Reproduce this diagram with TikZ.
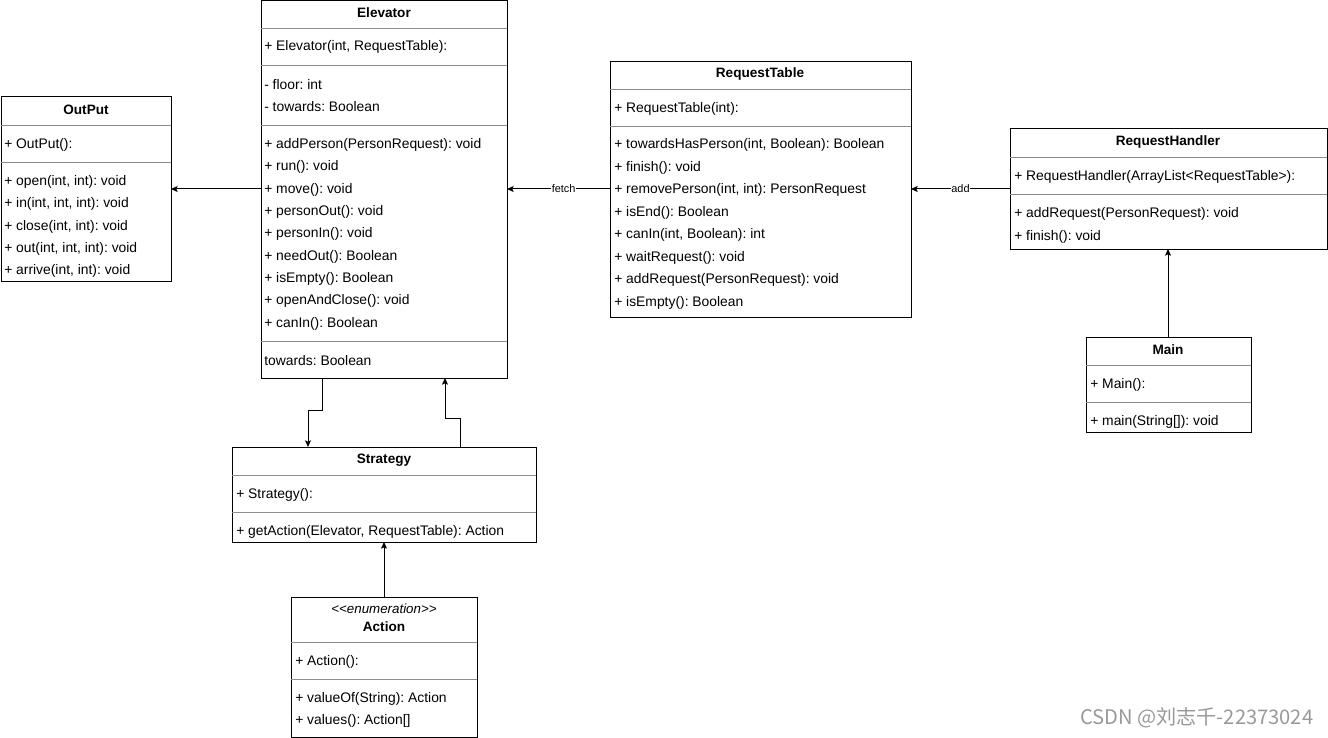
\documentclass[tikz,border=0pt]{standalone}
\usepackage{fontspec}
\setmainfont{Liberation Sans}[Ligatures=NoCommon]
\newfontfamily\cjkfont{Noto Sans CJK SC}
\usetikzlibrary{arrows.meta}
\frenchspacing
\begin{document}
\begin{tikzpicture}[x=0.75pt,y=-0.75pt,
  box/.style={draw=black, line width=0.75pt, anchor=north west, inner sep=0pt, outer sep=0pt},
  ttl/.style={inner sep=0pt, yshift=-0.75pt, font=\bfseries\fontsize{10.2}{11}\selectfont},
  itm/.style={anchor=west, inner sep=0pt, yshift=-0.75pt, font=\fontsize{10.4}{11}\selectfont},
  stereo/.style={inner sep=0pt, yshift=-0.75pt, font=\itshape\fontsize{10}{11}\selectfont},
  sepline/.style={draw=black!45, line width=0.7pt},
  conn/.style={draw=black, line width=0.75pt, -{Stealth[length=5pt,width=4.5pt,inset=1pt]}},
  lbl/.style={fill=white, inner sep=0.5pt, font=\fontsize{8.2}{9}\selectfont}]
\useasboundingbox (0,0) rectangle (1328,738);

% ---------- OutPut ----------
\node[box, minimum width=170*0.75pt, minimum height=184*0.75pt] (out) at (1,97) {};
\draw[sepline] (1,125) -- (171,125);
\draw[sepline] (1,162) -- (171,162);
\node[ttl] (out-t) at (86,109) {OutPut};
\node[itm] (out-c) at (4,144) {+ OutPut():};
\node[itm] (out-1) at (4,181) {+ open(int, int): void};
\node[itm] (out-2) at (4,203) {+ in(int, int, int): void};
\node[itm] (out-3) at (4,226) {+ close(int, int): void};
\node[itm] (out-4) at (4,248) {+ out(int, int, int): void};
\node[itm] (out-5) at (4,270) {+ arrive(int, int): void};

% ---------- Elevator ----------
\node[box, minimum width=246*0.75pt, minimum height=378*0.75pt] (el) at (261,0.5) {};
\draw[sepline] (261,28) -- (507,28);
\draw[sepline] (261,65) -- (507,65);
\draw[sepline] (261,125) -- (507,125);
\draw[sepline] (261,341) -- (507,341);
\node[ttl] (el-t) at (384,12) {Elevator};
\node[itm] (el-c) at (264,46) {+ Elevator(int, RequestTable):};
\node[itm] (el-a1) at (264,84) {- floor: int};
\node[itm] (el-a2) at (264,106) {- towards: Boolean};
\node[itm] (el-m1) at (264,144) {+ addPerson(PersonRequest): void};
\node[itm] (el-m2) at (264,166) {+ run(): void};
\node[itm] (el-m3) at (264,189) {+ move(): void};
\node[itm] (el-m4) at (264,211) {+ personOut(): void};
\node[itm] (el-m5) at (264,233) {+ personIn(): void};
\node[itm] (el-m6) at (264,256) {+ needOut(): Boolean};
\node[itm] (el-m7) at (264,278) {+ isEmpty(): Boolean};
\node[itm] (el-m8) at (264,300) {+ openAndClose(): void};
\node[itm] (el-m9) at (264,323) {+ canIn(): Boolean};
\node[itm] (el-x) at (264,360) {towards: Boolean};

% ---------- RequestTable ----------
\node[box, minimum width=301*0.75pt, minimum height=255*0.75pt] (rt) at (610,62) {};
\draw[sepline] (610,89) -- (911,89);
\draw[sepline] (610,126) -- (911,126);
\node[ttl] (rt-t) at (760,73) {RequestTable};
\node[itm] (rt-c) at (614,108) {+ RequestTable(int):};
\node[itm] (rt-1) at (614,144) {+ towardsHasPerson(int, Boolean): Boolean};
\node[itm] (rt-2) at (614,167) {+ finish(): void};
\node[itm] (rt-3) at (614,189) {+ removePerson(int, int): PersonRequest};
\node[itm] (rt-4) at (614,212) {+ isEnd(): Boolean};
\node[itm] (rt-5) at (614,234) {+ canIn(int, Boolean): int};
\node[itm] (rt-6) at (614,257) {+ waitRequest(): void};
\node[itm] (rt-7) at (614,279) {+ addRequest(PersonRequest): void};
\node[itm] (rt-8) at (614,302) {+ isEmpty(): Boolean};

% ---------- RequestHandler ----------
\node[box, minimum width=317*0.75pt, minimum height=120*0.75pt] (rh) at (1010,129) {};
\draw[sepline] (1010,157) -- (1327,157);
\draw[sepline] (1010,194) -- (1327,194);
\node[ttl] (rh-t) at (1168,141) {RequestHandler};
\node[itm] (rh-c) at (1014,176) {+ RequestHandler(ArrayList{<}RequestTable{>}):};
\node[itm] (rh-1) at (1014,213) {+ addRequest(PersonRequest): void};
\node[itm] (rh-2) at (1014,236) {+ finish(): void};

% ---------- Main ----------
\node[box, minimum width=165*0.75pt, minimum height=95*0.75pt] (mn) at (1086,337) {};
\draw[sepline] (1086,365) -- (1251,365);
\draw[sepline] (1086,402) -- (1251,402);
\node[ttl] (mn-t) at (1168,349) {Main};
\node[itm] (mn-c) at (1090,384) {+ Main():};
\node[itm] (mn-1) at (1090,421) {+ main(String[]): void};

% ---------- Strategy ----------
\node[box, minimum width=304*0.75pt, minimum height=95*0.75pt] (st) at (232,447) {};
\draw[sepline] (232,475) -- (536,475);
\draw[sepline] (232,512) -- (536,512);
\node[ttl] (st-t) at (384,459) {Strategy};
\node[itm] (st-c) at (236,494) {+ Strategy():};
\node[itm] (st-1) at (236,531) {+ getAction(Elevator, RequestTable): Action};

% ---------- Action ----------
\node[box, minimum width=186*0.75pt, minimum height=140*0.75pt] (ac) at (291,597) {};
\draw[sepline] (291,642) -- (477,642);
\draw[sepline] (291,679) -- (477,679);
\node[stereo] (ac-s) at (384,608) {{<}{<}enumeration{>}{>}};
\node[ttl] (ac-t) at (384,626) {Action};
\node[itm] (ac-c) at (295,661) {+ Action():};
\node[itm] (ac-1) at (295,698) {+ valueOf(String): Action};
\node[itm] (ac-2) at (295,720) {+ values(): Action[]};

% ---------- connectors ----------
\coordinate (elL) at (261,189);
\coordinate (outR) at (171,189);
\draw[conn] (elL) -- (outR);

\coordinate (rtL) at (610,189);
\coordinate (elR) at (507,189);
\draw[conn] (rtL) -- node[lbl, pos=0.45] (fetch) {fetch} (elR);

\coordinate (rhL) at (1010,189);
\coordinate (rtR) at (911,189);
\draw[conn] (rhL) -- node[lbl, pos=0.5] (addl) {add} (rtR);

\coordinate (mnT) at (1168,337);
\coordinate (rhB) at (1168,249);
\draw[conn] (mnT) -- (rhB);

\coordinate (elB1) at (322,378);
\coordinate (stT1) at (308,447);
\draw[conn] (elB1) -- (322,410) -- (308,410) -- (stT1);

\coordinate (stT2) at (460,447);
\coordinate (elB2) at (445,378);
\draw[conn] (stT2) -- (460,418) -- (445,418) -- (elB2);

\coordinate (acT) at (384,597);
\coordinate (stB) at (384,542);
\draw[conn] (acT) -- (stB);

% ---------- watermark ----------
\node[anchor=west, inner sep=0pt, text=black!40, font=\cjkfont\fontsize{15.1}{16}\selectfont] (wm) at (1080,718) {CSDN @刘志千-22373024};
\end{tikzpicture}
\end{document}
